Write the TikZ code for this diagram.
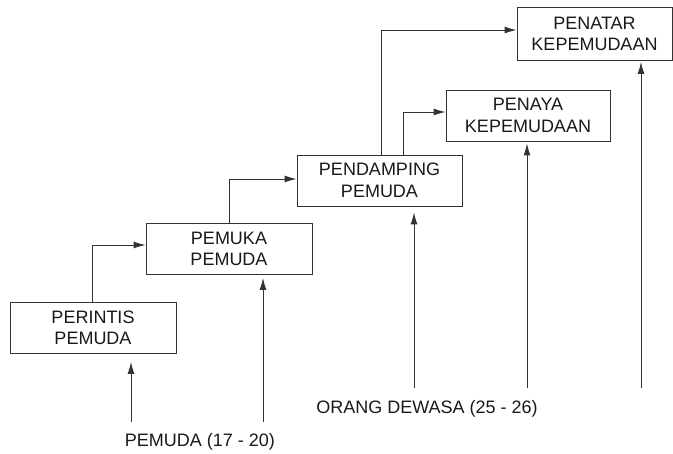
\documentclass[tikz,border=0pt]{standalone}
\usepackage{fontspec}
\setmainfont{Liberation Sans}
\usetikzlibrary{arrows.meta}
\begin{document}
\begin{tikzpicture}[x=1pt,y=-1pt,
  box/.style={draw=black!80,line width=0.9pt,inner sep=0pt,align=center,
    minimum height=51pt,font=\fontsize{18}{21.5}\selectfont,text=black!90},
  link/.style={draw=black!80,line width=0.9pt,-{Latex[length=12pt,width=7pt]}},
  lbl/.style={font=\fontsize{18}{21.5}\selectfont,text=black!90,inner sep=0pt}]
\useasboundingbox (0,0) rectangle (673,454);
\node[box,minimum width=166pt] (perintis) at (93,328) {PERINTIS\\PEMUDA};
\node[box,minimum width=166pt] (pemuka) at (229,249) {PEMUKA\\PEMUDA};
\node[box,minimum width=165pt] (pendamping) at (379.5,180.5) {PENDAMPING\\PEMUDA};
\node[box,minimum width=164pt] (penaya) at (528,115.5) {PENAYA\\KEPEMUDAAN};
\node[box,minimum width=155pt,minimum height=53pt] (penatar) at (594.5,34) {PENATAR\\KEPEMUDAAN};
\node[lbl] (young) at (200,442) {PEMUDA (17 - 20)};
\node[lbl] (adult) at (427,409) {ORANG DEWASA (25 - 26)};
% step connectors
\draw[link] (perintis.north -| 92,0) |- (pemuka.west |- 0,245);
\draw[link] (pemuka.north -| 229,0) |- (pendamping.west |- 0,179);
\draw[link] (pendamping.north -| 381,0) |- (penatar.west |- 0,30);
\draw[link] (pendamping.north -| 403,0) |- (penaya.west |- 0,112);
% bottom arrows
\coordinate (b1) at (131,422);
\coordinate (b2) at (263,422);
\coordinate (b3) at (414,388);
\coordinate (b4) at (527,388);
\coordinate (b5) at (641,388);
\draw[link,shorten >=8pt] (b1) -- (b1 |- perintis.south);
\draw[link,shorten >=3pt] (b2) -- (b2 |- pemuka.south);
\draw[link,shorten >=6pt] (b3) -- (b3 |- pendamping.south);
\draw[link,shorten >=2pt] (b4) -- (b4 |- penaya.south);
\draw[link,shorten >=1pt] (b5) -- (b5 |- penatar.south);
\end{tikzpicture}
\end{document}
